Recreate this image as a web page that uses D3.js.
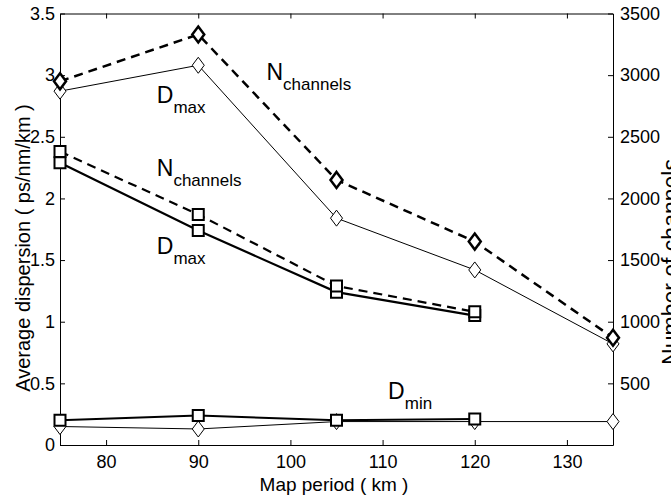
<!DOCTYPE html>
<head>
<meta charset="utf-8">
<style>
  body { margin: 0; background: #fff; }
  text { font-family: "Liberation Sans", Arial, sans-serif; fill: #000; }
  .axis path, .axis line { stroke: #000; stroke-width: 1; }
  .axis text { font-size: 18px; }
</style>
</head>
<body>
<svg width="671" height="495"></svg>
<script src="https://d3js.org/d3.v7.min.js"></script>
<script>
// map period (km)
var periodDia = [75, 90, 105, 120, 135];
var periodSq = [75, 90, 105, 120];

// diamond series
var dmaxDia = [2.87, 3.08, 1.84, 1.42, 0.82];       // ps/nm/km
var nchDia = [2950, 3330, 2150, 1650, 870];        // channels
var dminDia = [0.15, 0.13, 0.19, 0.19, 0.19];

// square series
var dmaxSq = [2.29, 1.74, 1.24, 1.05];
var nchSq = [2380, 1870, 1290, 1080];
var dminSq = [0.20, 0.24, 0.20, 0.21];

var xTicks = [80, 90, 100, 110, 120, 130];
var yTicks = [0, 0.5, 1, 1.5, 2, 2.5, 3, 3.5];
var y2Ticks = [500, 1000, 1500, 2000, 2500, 3000, 3500];

var svg = d3.select("svg");
var mLeft = 60, mRight = 613, mTop = 13.5, mBottom = 445;

var x = d3.scaleLinear().domain([75, 135]).range([mLeft, mRight]);
var y = d3.scaleLinear().domain([0, 3.5]).range([mBottom, mTop]);
var y2 = d3.scaleLinear().domain([0, 3500]).range([mBottom, mTop]);

// axes, matlab style inward ticks
svg.append("g").attr("class", "axis")
    .attr("transform", "translate(0," + mBottom + ")")
    .call(d3.axisBottom(x).tickValues(xTicks).tickSizeInner(-5).tickSizeOuter(0).tickPadding(10))
    .selectAll("text").attr("dy", "0.71em");
svg.append("g").attr("class", "axis")
    .attr("transform", "translate(0," + mTop + ")")
    .call(d3.axisTop(x).tickValues(xTicks).tickSizeInner(-5).tickSizeOuter(0).tickFormat(""));
svg.append("g").attr("class", "axis")
    .attr("transform", "translate(" + mLeft + ",0)")
    .call(d3.axisLeft(y).tickValues(yTicks).tickSizeInner(-5).tickSizeOuter(0).tickPadding(5)
        .tickFormat(function(d) { return d; }));
svg.append("g").attr("class", "axis")
    .attr("transform", "translate(" + mRight + ",0)")
    .call(d3.axisRight(y2).tickValues(y2Ticks).tickSizeInner(-5).tickSizeOuter(0).tickPadding(7)
        .tickFormat(d3.format("d")));

// axis titles
svg.append("text")
    .attr("x", 334).attr("y", 491)
    .attr("text-anchor", "middle").style("font-size", "19px")
    .text("Map period  ( km )");
svg.append("text")
    .attr("transform", "translate(30,248) rotate(-90)")
    .attr("text-anchor", "middle").style("font-size", "20px")
    .text("Average dispersion  ( ps/nm/km )");
svg.append("text")
    .attr("transform", "translate(679,262) rotate(-90)")
    .attr("text-anchor", "middle").style("font-size", "23px")
    .text("Number of channels");

function series(xs, ys, scale, opt) {
    var pts = xs.map(function(d, i) { return [x(d), scale(ys[i])]; });
    svg.append("path")
        .attr("d", d3.line()(pts))
        .attr("fill", "none")
        .attr("stroke", "#000")
        .attr("stroke-width", opt.width)
        .attr("stroke-dasharray", opt.dash || null);
    var sym = opt.shape === "square"
        ? "M-5.5,-5.5H5.5V5.5H-5.5Z"
        : "M0,-8L6,0L0,8L-6,0Z";
    svg.append("g").selectAll("path")
        .data(pts)
        .enter().append("path")
        .attr("d", sym)
        .attr("transform", function(d) { return "translate(" + d[0] + "," + d[1] + ")"; })
        .attr("fill", "#fff")
        .attr("stroke", "#000")
        .attr("stroke-width", opt.mark);
}

series(periodDia, dminDia, y, { width: 1, mark: 1, shape: "diamond" });
series(periodSq, dminSq, y, { width: 2, mark: 2, shape: "square" });
series(periodDia, dmaxDia, y, { width: 1, mark: 1, shape: "diamond" });
series(periodDia, nchDia, y2, { width: 2.5, dash: "9,6", mark: 2.5, shape: "diamond" });
series(periodSq, dmaxSq, y, { width: 2.2, mark: 2, shape: "square" });
series(periodSq, nchSq, y2, { width: 2.2, dash: "9,6", mark: 2, shape: "square" });

// annotations (placed in data coordinates)
function label(px, py, main, sub) {
    var t = svg.append("text").attr("x", x(px)).attr("y", y(py)).style("font-size", "23px");
    t.append("tspan").text(main);
    t.append("tspan").attr("dy", 10).style("font-size", "17px").text(sub);
}
label(97.4, 2.96, "N", "channels");
label(85.5, 2.77, "D", "max");
label(85.5, 2.18, "N", "channels");
label(85.5, 1.55, "D", "max");
label(110.6, 0.37, "D", "min");
</script>
</body>
